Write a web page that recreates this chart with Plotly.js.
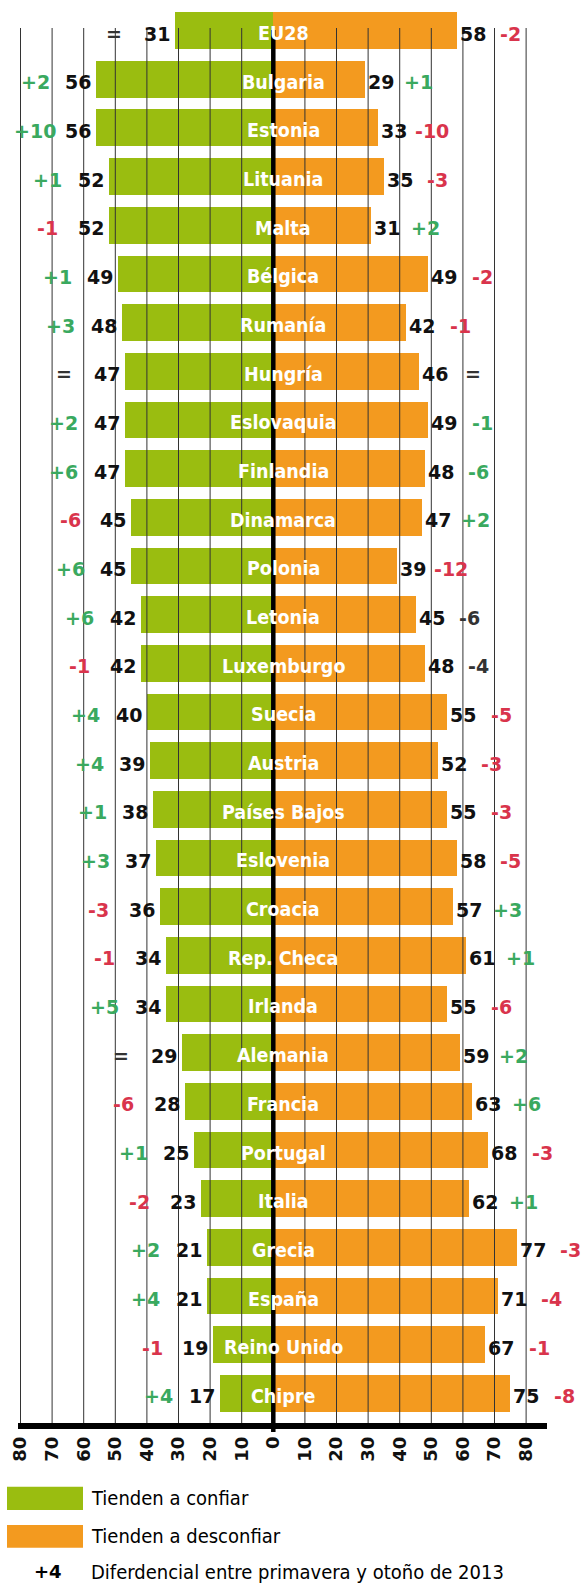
<!DOCTYPE html>
<html><head><meta charset="utf-8">
<script src="https://cdn.plot.ly/plotly-3.0.1.min.js"></script>
<style>html,body{margin:0;padding:0;background:#fff}#chart{width:581px;height:1583px}</style>
</head><body><div id="chart"></div>
<script>
// ---------- DATA ----------
const countries = ['EU28','Bulgaria','Estonia','Lituania','Malta','Bélgica','Rumanía','Hungría','Eslovaquia','Finlandia','Dinamarca','Polonia','Letonia','Luxemburgo','Suecia','Austria','Países Bajos','Eslovenia','Croacia','Rep. Checa','Irlanda','Alemania','Francia','Portugal','Italia','Grecia','España','Reino Unido','Chipre'];
const confiar    = [31,56,56,52,52,49,48,47,47,47,45,45,42,42,40,39,38,37,36,34,34,29,28,25,23,21,21,19,17];
const desconfiar = [58,29,33,35,31,49,42,46,49,48,47,39,45,48,55,52,55,58,57,61,55,59,63,68,62,77,71,67,75];
const cambioConfiar    = [0,2,10,1,-1,1,3,0,2,6,-6,6,6,-1,4,4,1,3,-3,-1,5,0,-6,1,-2,2,4,-1,4];
const cambioDesconfiar = [-2,1,-10,-3,2,-2,-1,0,-1,-6,2,-12,-6,-4,-5,-3,-3,-5,3,1,-6,2,6,-3,1,-3,-4,-1,-8];
const tickValues = [-80,-70,-60,-50,-40,-30,-20,-10,0,10,20,30,40,50,60,70,80];
const tickLabels = ['80','70','60','50','40','30','20','10','0','10','20','30','40','50','60','70','80'];
const legendLabels = ['Tienden a confiar','Tienden a desconfiar'];
const noteSample = '+4';
const noteText = 'Diferdencial entre primavera y otoño de 2013';

// ---------- STYLE ----------
const W = 581, H = 1583, ML = 18, MR = 34, MT = 12, MB = 157;
const XR = [-80.79, 86.61], YR = [28.67, -0.38];
const GREEN = '#9abd10', ORANGE = '#f39a1f';
const TXT_GREEN = '#3aa95f', TXT_RED = '#d9344c', TXT_DARK = '#333333';
const NAME_FONT = 'DejaVu Sans Condensed, Liberation Sans Narrow, Roboto, sans-serif';
const NUM_FONT = 'DejaVu Sans, sans-serif';
// right-hand colour exceptions seen in the original
const rightGreenOverride = ['Eslovaquia','Finlandia'];
const rightDarkOverride = ['Letonia','Luxemburgo'];

const pw = W - ML - MR, ph = H - MT - MB;
const px2x = px => (px - ML) / pw;
const py2y = py => (H - MB - py) / ph;

function fmt(v){ return v === 0 ? '=' : (v > 0 ? '+' + v : '-' + Math.abs(v)); }
function col(v){ return v === 0 ? TXT_DARK : (v > 0 ? TXT_GREEN : TXT_RED); }

const traces = [
  {type:'bar', orientation:'h', y:countries, x:confiar.map(v=>-v), width:0.755,
   marker:{color:GREEN}, hoverinfo:'skip', showlegend:false},
  {type:'bar', orientation:'h', y:countries, x:desconfiar, width:0.755,
   marker:{color:ORANGE}, hoverinfo:'skip', showlegend:false}
];

const ann = [];
countries.forEach((c,i)=>{
  const base = {xref:'x', yref:'y', y:c, showarrow:false, yshift:-3};
  ann.push(Object.assign({}, base, {x:0, xshift:10, xanchor:'center', text:c,
    font:{family:NAME_FONT, size:19.5, color:'#ffffff', weight:'bold'}}));
  ann.push(Object.assign({}, base, {x:-confiar[i], xshift:-3, xanchor:'right', text:String(confiar[i]),
    font:{family:NUM_FONT, size:19, color:'#111111', weight:'bold'}}));
  ann.push(Object.assign({}, base, {x:desconfiar[i], xshift:1, xanchor:'left', text:String(desconfiar[i]),
    font:{family:NUM_FONT, size:19, color:'#111111', weight:'bold'}}));
  ann.push(Object.assign({}, base, {x:-confiar[i], xshift:-61, xanchor:'center', text:fmt(cambioConfiar[i]),
    font:{family:NUM_FONT, size:19, color:col(cambioConfiar[i]), weight:'bold'}}));
  let rc = col(cambioDesconfiar[i]);
  if (rightGreenOverride.includes(c)) rc = TXT_GREEN;
  if (rightDarkOverride.includes(c)) rc = TXT_DARK;
  ann.push(Object.assign({}, base, {x:desconfiar[i], xshift:54, xanchor:'center', text:fmt(cambioDesconfiar[i]),
    font:{family:NUM_FONT, size:19, color:rc, weight:'bold'}}));
});

// legend
const legendColors = [GREEN, ORANGE];
const legendRows = [[1486.7,1510],[1525,1547.7]];
const shapes = [];
legendLabels.forEach((t,k)=>{
  const r = legendRows[k];
  shapes.push({type:'rect', xref:'paper', yref:'paper', x0:px2x(7), x1:px2x(83),
    y0:py2y(r[1]), y1:py2y(r[0]), fillcolor:legendColors[k], line:{width:0}, layer:'above'});
  ann.push({xref:'paper', yref:'paper', x:px2x(89), y:py2y((r[0]+r[1])/2), xanchor:'left', yanchor:'middle',
    showarrow:false, text:t, font:{family:NAME_FONT, size:20, color:'#000000'}});
});
ann.push({xref:'paper', yref:'paper', x:px2x(48), y:py2y(1572), xanchor:'center', yanchor:'middle',
  showarrow:false, text:noteSample, font:{family:NUM_FONT, size:18, color:'#000000', weight:'bold'}});
ann.push({xref:'paper', yref:'paper', x:px2x(89), y:py2y(1572), xanchor:'left', yanchor:'middle',
  showarrow:false, text:noteText, font:{family:NAME_FONT, size:20, color:'#000000'}});

// vertical grid lines over bars
const gridTop = py2y(28);
tickValues.forEach(v=>{
  if (v === 0) return;
  shapes.push({type:'line', xref:'x', yref:'paper', x0:v, x1:v, y0:gridTop, y1:0,
    line:{color:'#333333', width:1}, layer:'above'});
});
// centre line
shapes.push({type:'line', xref:'x', yref:'paper', x0:0, x1:0, y0:py2y(30), y1:py2y(1432),
  line:{color:'#000000', width:4.5}, layer:'above'});
// bottom axis line
shapes.push({type:'line', xref:'paper', yref:'paper', x0:0, x1:1, y0:0, y1:0,
  line:{color:'#000000', width:6}, layer:'above'});

const layout = {
  width:W, height:H, margin:{l:ML, r:MR, t:MT, b:MB, pad:0},
  paper_bgcolor:'#ffffff', plot_bgcolor:'#ffffff',
  barmode:'overlay', bargap:0, showlegend:false,
  xaxis:{range:XR, tickmode:'array', tickvals:tickValues, ticktext:tickLabels, tickangle:-90,
    showgrid:false, zeroline:false, showline:false, ticks:'', ticklabelstandoff:6,
    tickfont:{family:NUM_FONT, size:18, color:'#111111', weight:'bold'}, fixedrange:true},
  yaxis:{type:'category', categoryorder:'array', categoryarray:countries, range:YR,
    visible:false, showgrid:false, zeroline:false, fixedrange:true},
  annotations:ann, shapes:shapes
};
Plotly.newPlot('chart', traces, layout, {staticPlot:true, displayModeBar:false});
</script></body></html>
